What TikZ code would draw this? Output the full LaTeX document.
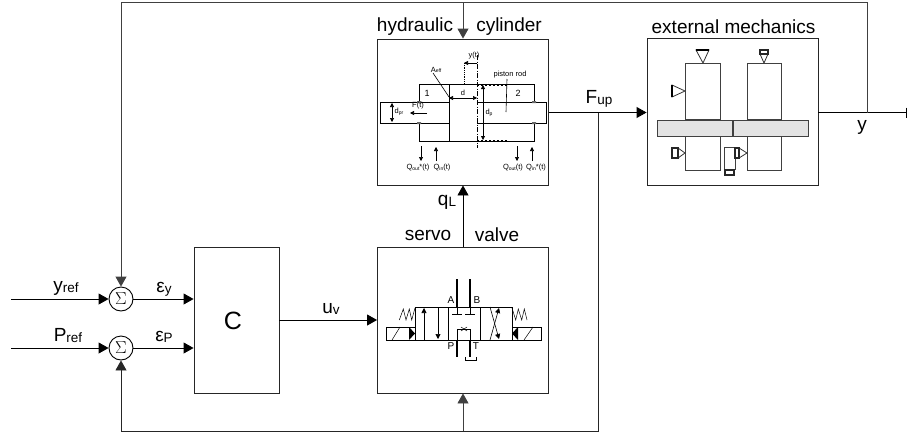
\documentclass[tikz,border=0pt]{standalone}
\usepackage{fontspec}
\setmainfont{Liberation Sans}
\usetikzlibrary{arrows.meta,positioning}
\newcommand{\lowtxt}[1]{\raisebox{-1pt}{\fontsize{13.5}{14}\selectfont #1}}
\newcommand{\tinytxt}[1]{\raisebox{-.5pt}{\fontsize{5}{5}\selectfont #1}}

\begin{document}
\begin{tikzpicture}[
          x=1pt, y=-1pt, line width=.9pt,
          blockbox/.style={draw=black!85, minimum width=#1, inner sep=0pt},
          sumnode/.style={draw, circle, minimum size=24pt, inner sep=0pt, font=\fontsize{18}{18}\selectfont},
          lab/.style={inner sep=0pt, font=\fontsize{19}{22}\selectfont},
          small/.style={inner sep=0pt, font=\fontsize{7.5}{8}\selectfont},
          portlab/.style={inner sep=0pt, font=\fontsize{10}{10}\selectfont},
          arr/.style={-{Triangle[length=10pt,width=11pt]}},
          thinarr/.style={-{Triangle[length=4pt,width=4pt]}, line width=.6pt},
          botharr/.style={{Triangle[length=4pt,width=4pt]}-{Triangle[length=4pt,width=4pt]}, line width=.6pt},
          valvearr/.style={-{Triangle[length=5pt,width=5pt]}, line width=.6pt},
          part/.style={draw=black!75, line width=.8pt},
          sens/.style={draw=black!80, line width=.8pt, fill=white},
          sensbox/.style={draw=black!85, line width=1.2pt, fill=white}
        ]
        \useasboundingbox (0,0) rectangle (907,434);
        % main blocks
        \node[blockbox=85pt, minimum height=146pt] (ctrl) at (236.5,320) {};
        \node[blockbox=171pt, minimum height=146pt] (cyl) at (463,112) {};
        \node[blockbox=171pt, minimum height=146pt] (valve) at (463,320) {};
        \node[blockbox=171pt, minimum height=147pt] (mech) at (732.5,111.5) {};
        \node[sumnode] (sumy) at (121,299) {$\Sigma$};
        \node[sumnode] (sump) at (121,348) {$\Sigma$};
        % free ends
        \coordinate (inY) at (11,299);
        \coordinate (inP) at (11,348);
        \coordinate (endY) at (906,112.5);
        \coordinate (tapY) at (867,112.5);
        \coordinate (tapF) at (598,112.5);
        % labels
        \node[inner sep=0pt, font=\fontsize{25}{25}\selectfont] at (233,321) {C};
        \node[lab] at (415,27) {hydraulic};
        \node[lab] at (509,27) {cylinder};
        \node[lab] at (733.5,27) {external mechanics};
        \node[lab] at (428,235) {servo};
        \node[lab] at (497,235) {valve};
        \node[lab] at (66,288) {y\lowtxt{ref}};
        \node[lab] at (68,336) {P\lowtxt{ref}};
        \node[lab] at (164,289) {ε\lowtxt{y}};
        \node[lab] at (164,337) {ε\lowtxt{P}};
        \node[lab] at (331,309) {u\lowtxt{v}};
        \node[lab] at (447,202) {q\lowtxt{L}};
        \node[lab] at (599,99) {F\lowtxt{up}};
        \node[lab] at (862,127) {y};
        % connectors
        \draw[arr] (inY) -- (sumy);
        \draw[arr] (inP) -- (sump);
        \draw[arr] (sumy) -- (sumy -| ctrl.west);
        \draw[arr] (sump) -- (sump -| ctrl.west);
        \draw[arr] (ctrl.east) -- (ctrl.east -| valve.west);
        \draw[arr] (valve.north) -- (cyl.south);
        \draw[arr] (cyl.east |- tapF) -- (tapF -| mech.west);
        \draw (mech.east |- tapY) -- (endY);
        \draw (endY) ++(0,-5) -- ++(0,10);
        \draw[arr, draw=black!75] (tapY) |- (0,2 -| sumy) -- (sumy);
        \draw[arr, draw=black!75] (cyl.north |- 0,2) -- (cyl.north);
        \draw[arr, draw=black!85] (tapF) |- (0,431 -| sump) -- (sump);
        \draw[arr, draw=black!75] (valve.south |- 0,431) -- (valve.south);
        % cylinder drawing
        \begin{scope}[line width=.8pt]
          \draw (419,102) -- (419,84) -- (534,84) -- (534,102);
          \draw (419,123) -- (419,141) -- (534,141) -- (534,123);
          \draw (449,102) -- (380,102) -- (380,123) -- (449,123);
          \draw (477,102) -- (546,102) -- (546,123) -- (477,123);
          \draw[line width=1pt] (449,84) -- (449,141);
          \draw[line width=1pt, dash pattern=on 5pt off 1.5pt on 1pt off 1.5pt] (477,55) -- (477,148);
          \draw[densely dotted] (464,63) -- (464,84);
          \draw[dash pattern=on 2pt off 2pt] (477,85) -- (508,85) (477,140) -- (508,140);
          \fill[black!60] (417,101) rectangle (421,103) (417,122) rectangle (421,124) (532,101) rectangle (536,103) (532,122) rectangle (536,124);
        \end{scope}
        \draw[thinarr] (477,63) -- (464,63);
        \draw[line width=.6pt] (433,73) -- (449,97);
        \draw[botharr] (449,98) -- (477,98);
        \draw[botharr, line width=.8pt] (483,85) -- (483,140);
        \draw[botharr] (392,103) -- (392,122);
        \draw[thinarr] (427,113) -- (410,113);
        \draw[line width=.6pt] (507,79) -- (506,112);
        \draw[thinarr] (421,146) -- (421,161);
        \draw[thinarr] (436,161) -- (436,147);
        \draw[thinarr] (517,146) -- (517,161);
        \draw[thinarr] (532,161) -- (532,147);
        \node[small] at (474,56) {y(t)};
        \node[small] at (436,70) {A\tinytxt{eff}};
        \node[small] at (510,75) {piston rod};
        \node[small] at (463,93) {d};
        \node[small] at (489,113) {d\tinytxt{p}};
        \node[small] at (399,112) {d\tinytxt{pr}};
        \node[small] at (418,106) {F(t)};
        \node[small, font=\fontsize{9}{9}\selectfont] at (427,93) {1};
        \node[small, font=\fontsize{9}{9}\selectfont] at (518,93) {2};
        \node[small] at (418,168) {Q\tinytxt{out}*(t)};
        \node[small] at (442,168) {Q\tinytxt{in}(t)};
        \node[small] at (513,168) {Q\tinytxt{out}(t)};
        \node[small] at (536,168) {Q\tinytxt{in}*(t)};
        % valve drawing
        \begin{scope}[line width=.8pt]
          \draw (415,307) rectangle (512,340);
          \draw (448,307) -- (448,340) (480,307) -- (480,340);
          \draw (386,327) rectangle (415,340) (512,327) rectangle (541,340);
          \draw[line width=.5pt] (392,340) -- (400,327) (524,340) -- (533,327);
          \draw[line width=2.2pt] (457,279) -- (457,307) (470,279) -- (470,307) (457,340) -- (457,357) (470,340) -- (470,357);
          \draw[line width=.5pt] (457,307) -- (457,314) (452,314) -- (462,314) (470,307) -- (470,314) (465,314) -- (475,314);
          \draw (457,340) -- (457,329) -- (470,329) -- (470,340);
          \draw[line width=.5pt] (461,327) -- (467,331) (461,331) -- (467,327);
          \draw (465,357) -- (465,360) -- (476,360) -- (476,357);
          \draw[line width=.5pt] (399.3,320) -- (403.3,309) -- (406,320) -- (409.3,309) -- (411.7,320) -- (415,308);
          \draw[line width=.5pt] (512,308) -- (515.7,320) -- (518.3,309) -- (521.7,320) -- (524.3,309) -- (527,320);
          \fill (409,327) -- (415,333.5) -- (409,340) -- cycle;
          \fill (518,327) -- (512,333.5) -- (518,340) -- cycle;
        \end{scope}
        \draw[valvearr] (424,340) -- (424,308);
        \draw[valvearr] (438,307) -- (438,339);
        \draw[valvearr] (490,340) -- (499,308);
        \draw[valvearr] (490,307) -- (499,339);
        \node[portlab] at (451,300) {A};
        \node[portlab] at (477,300) {B};
        \node[portlab] at (451,346) {P};
        \node[portlab] at (476,346) {T};
        % mechanics drawing
        \draw[part] (685,63) rectangle (720,119);
        \draw[part] (747,63) rectangle (781,119);
        \draw[part] (685,136) rectangle (720,170);
        \draw[part] (747,136) rectangle (781,170);
        \draw[part, fill=black!11] (657,120) rectangle (732,136);
        \draw[part, fill=black!11] (733,120) rectangle (808,136);
        \draw[part, fill=white] (724,147) rectangle (735,169);
        \draw[sens] (703,63) -- (696,50) -- (709,50) -- cycle;
        \draw[line width=1.3pt] (696,50) -- (709,50);
        \draw[sens] (764,63) -- (760,54) -- (768,54) -- cycle;
        \draw[sens] (672,85) -- (685,91) -- (672,97) -- cycle;
        \draw[line width=1.3pt] (672,85) -- (672,97);
        \draw[sens] (678,148) -- (685,153) -- (678,158) -- cycle;
        \draw[sens] (739,148) -- (747,153) -- (739,158) -- cycle;
        \draw[sensbox] (760,50) rectangle (768,54);
        \draw[sensbox] (672,148) rectangle (678,158);
        \draw[sensbox] (735,148) rectangle (739,158);
        \draw[sensbox] (725,170) rectangle (734,175);
      \end{tikzpicture}
\end{document}
